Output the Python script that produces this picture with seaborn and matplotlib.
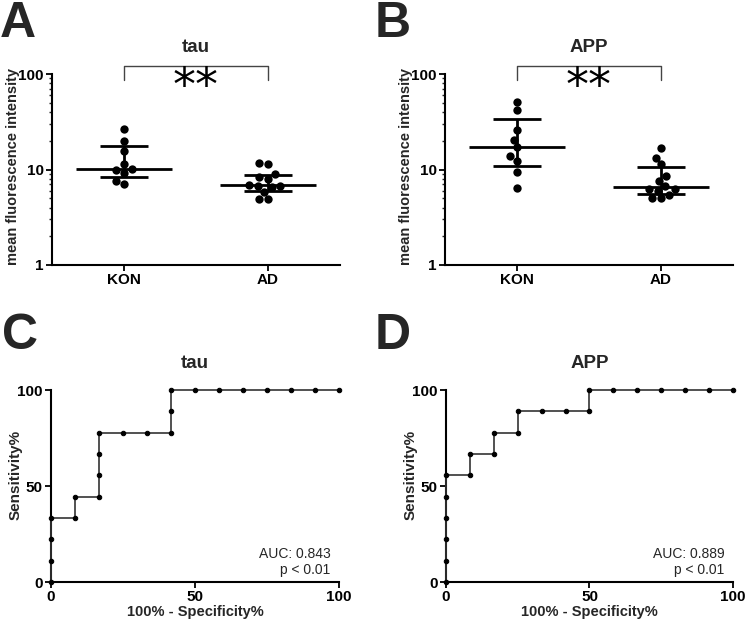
import numpy as np
import pandas as pd
import seaborn as sns
import matplotlib
matplotlib.use('Agg')
import matplotlib.pyplot as plt
import matplotlib.transforms as mtransforms
from matplotlib.ticker import LogLocator, NullFormatter, FixedLocator

# data (mean fluorescence intensity per subject)
groups = ['KON', 'AD']
tau_kon = [26.7, 19.7, 15.5, 11.5, 9.8, 10.1, 9.2, 7.6, 7.0]
tau_ad = [11.7, 11.3, 8.25, 8.87, 7.87, 6.86, 6.75, 6.49, 6.70, 5.84, 4.87, 4.87]
app_kon = [51.3, 41.8, 25.7, 20.6, 17.0, 13.8, 12.2, 9.48, 6.34]
app_ad = [16.9, 13.3, 11.3, 8.58, 7.66, 6.67, 6.31, 6.31, 6.01, 5.42, 4.99, 4.99]
titles = ['tau', 'APP']
signif = ['**', '**']
p_text = ['p < 0.01', 'p < 0.01']

sns.set_style('ticks')
plt.rcParams['font.family'] = ['Liberation Sans', 'DejaVu Sans']
plt.rcParams['font.weight'] = 'bold'
plt.rcParams['axes.linewidth'] = 1.5

fig = plt.figure(figsize=(7.46, 6.19), dpi=100)


def roc_points(pos, neg):
    # step through thresholds from high to low, one subject at a time
    vals = sorted([(v, 1) for v in pos] + [(v, 0) for v in neg], key=lambda t: -t[0])
    fpr, tpr = [0.0], [0.0]
    tp = fp = 0
    for v, lab in vals:
        if lab:
            tp += 1
        else:
            fp += 1
        tpr.append(100 * tp / len(pos))
        fpr.append(100 * fp / len(neg))
    return fpr, tpr


def style_ticks(ax):
    ax.tick_params(axis='both', which='major', direction='out', length=4, width=1.3,
                   labelsize=11, colors='black', pad=2)
    ax.tick_params(axis='both', which='minor', direction='out', length=2.5, width=1.0)
    for s in ['left', 'bottom']:
        ax.spines[s].set_color('black')
        ax.spines[s].set_linewidth(1.5)


def scatter_panel(ax, kon, ad, title, stars):
    df = pd.DataFrame({'group': ['KON'] * len(kon) + ['AD'] * len(ad),
                       'value': kon + ad})
    sns.swarmplot(data=df, x='group', y='value', order=groups, color='black',
                  size=6, log_scale=True, ax=ax, zorder=2)
    for i, vals in enumerate([kon, ad]):
        q1, med, q3 = np.percentile(vals, [25, 50, 75], method='weibull')
        ax.hlines(med, i - 0.33, i + 0.33, color='black', lw=2, zorder=3)
        ax.hlines([q1, q3], i - 0.17, i + 0.17, color='black', lw=2, zorder=3)
        ax.vlines(i, q1, q3, color='black', lw=2, zorder=3)
    ax.set_xlim(-0.5, 1.5)
    ax.set_ylim(1, 100)
    ax.yaxis.set_major_locator(FixedLocator([1, 10, 100]))
    ax.set_yticklabels(['1', '10', '100'])
    ax.yaxis.set_minor_locator(LogLocator(base=10, subs=np.arange(2, 10)))
    ax.yaxis.set_minor_formatter(NullFormatter())
    ax.set_xlabel('')
    ax.set_ylabel('mean fluorescence intensity', fontsize=10.5, fontweight='bold')
    ax.yaxis.set_label_coords(-0.112, 0.515)
    sns.despine(ax=ax)
    style_ticks(ax)
    tr = mtransforms.blended_transform_factory(ax.transData, ax.transAxes)
    ax.plot([0, 0, 1, 1], [0.968, 1.042, 1.042, 0.968], color='#444444', lw=1,
            transform=tr, clip_on=False)
    ax.text(0.5, 0.93, stars, transform=tr, ha='center', va='center',
            fontsize=33, fontweight='normal', family='DejaVu Sans', color='black')
    ax.text(0.5, 1.14, title, transform=ax.transAxes, ha='center', va='center',
            fontsize=13.5, fontweight='bold')


def roc_panel(ax, kon, ad, title, ptxt):
    fpr, tpr = roc_points(kon, ad)
    auc = np.trapezoid(tpr, fpr) / 10000
    df = pd.DataFrame({'fpr': fpr, 'tpr': tpr})
    sns.lineplot(data=df, x='fpr', y='tpr', sort=False, estimator=None,
                 color='#333333', lw=1.2, marker='o', markersize=3.2,
                 markerfacecolor='black', markeredgecolor='black', ax=ax,
                 clip_on=False, zorder=3)
    ax.set_xlim(0, 100)
    ax.set_ylim(0, 100)
    ax.set_xticks([0, 50, 100])
    ax.set_yticks([0, 50, 100])
    ax.set_xlabel('100% - Specificity%', fontsize=10.5, fontweight='bold')
    ax.set_ylabel('Sensitivity%', fontsize=11, fontweight='bold')
    ax.yaxis.set_label_coords(-0.10, 0.56)
    ax.xaxis.set_label_coords(0.5, -0.12)
    sns.despine(ax=ax)
    style_ticks(ax)
    ax.text(0.97, 0.145, 'AUC: %.3f' % auc, transform=ax.transAxes, ha='right',
            va='center', fontsize=10, fontweight='normal')
    ax.text(0.97, 0.06, ptxt, transform=ax.transAxes, ha='right',
            va='center', fontsize=10, fontweight='normal')
    ax.text(0.5, 1.14, title, transform=ax.transAxes, ha='center', va='center',
            fontsize=13.5, fontweight='bold')


W, H = 746, 619
boxes = {
    'A': (52, 74, 288, 191),
    'B': (445, 74, 288, 191),
    'C': (51, 390, 288, 192),
    'D': (446, 390, 287, 192),
}
axes = {}
for k, (x, y, w, h) in boxes.items():
    axes[k] = fig.add_axes([x / W, 1 - (y + h) / H, w / W, h / H])

scatter_panel(axes['A'], tau_kon, tau_ad, titles[0], signif[0])
scatter_panel(axes['B'], app_kon, app_ad, titles[1], signif[1])
roc_panel(axes['C'], tau_kon, tau_ad, titles[0], p_text[0])
roc_panel(axes['D'], app_kon, app_ad, titles[1], p_text[1])

for letter, (x, y) in {'A': (0, 1), 'B': (375, 1), 'C': (2, 313), 'D': (375, 313)}.items():
    fig.text(x / W, 1 - y / H, letter, fontsize=36, fontweight='bold',
             ha='left', va='top')

fig.savefig('out.png', dpi=100)
